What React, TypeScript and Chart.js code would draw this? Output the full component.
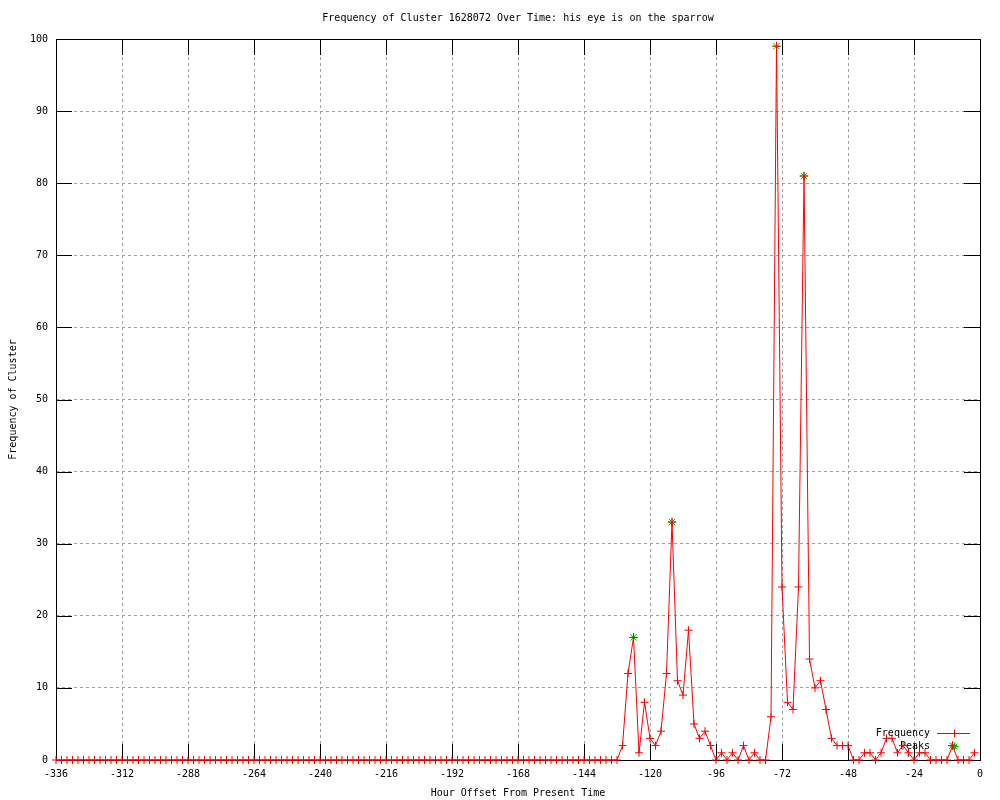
import React, { useEffect, useRef } from "react";
import { Chart, registerables } from "chart.js";

Chart.register(...registerables);

const TITLE = "Frequency of Cluster 1628072 Over Time: his eye is on the sparrow";
const X_LABEL = "Hour Offset From Present Time";
const Y_LABEL = "Frequency of Cluster";
const FREQ_LABEL = "Frequency";
const PEAKS_LABEL = "Peaks";

const hours = [
  -336, -334, -332, -330, -328, -326, -324, -322, -320, -318,
  -316, -314, -312, -310, -308, -306, -304, -302, -300, -298,
  -296, -294, -292, -290, -288, -286, -284, -282, -280, -278,
  -276, -274, -272, -270, -268, -266, -264, -262, -260, -258,
  -256, -254, -252, -250, -248, -246, -244, -242, -240, -238,
  -236, -234, -232, -230, -228, -226, -224, -222, -220, -218,
  -216, -214, -212, -210, -208, -206, -204, -202, -200, -198,
  -196, -194, -192, -190, -188, -186, -184, -182, -180, -178,
  -176, -174, -172, -170, -168, -166, -164, -162, -160, -158,
  -156, -154, -152, -150, -148, -146, -144, -142, -140, -138,
  -136, -134, -132, -130, -128, -126, -124, -122, -120, -118,
  -116, -114, -112, -110, -108, -106, -104, -102, -100, -98,
  -96, -94, -92, -90, -88, -86, -84, -82, -80, -78,
  -76, -74, -72, -70, -68, -66, -64, -62, -60, -58,
  -56, -54, -52, -50, -48, -46, -44, -42, -40, -38,
  -36, -34, -32, -30, -28, -26, -24, -22, -20, -18,
  -16, -14, -12, -10, -8, -6, -4, -2,
];

const frequency = [
  0, 0, 0, 0, 0, 0, 0, 0, 0, 0,
  0, 0, 0, 0, 0, 0, 0, 0, 0, 0,
  0, 0, 0, 0, 0, 0, 0, 0, 0, 0,
  0, 0, 0, 0, 0, 0, 0, 0, 0, 0,
  0, 0, 0, 0, 0, 0, 0, 0, 0, 0,
  0, 0, 0, 0, 0, 0, 0, 0, 0, 0,
  0, 0, 0, 0, 0, 0, 0, 0, 0, 0,
  0, 0, 0, 0, 0, 0, 0, 0, 0, 0,
  0, 0, 0, 0, 0, 0, 0, 0, 0, 0,
  0, 0, 0, 0, 0, 0, 0, 0, 0, 0,
  0, 0, 0, 2, 12, 17, 1, 8, 3, 2,
  4, 12, 33, 11, 9, 18, 5, 3, 4, 2,
  0, 1, 0, 1, 0, 2, 0, 1, 0, 0,
  6, 99, 24, 8, 7, 24, 81, 14, 10, 11,
  7, 3, 2, 2, 2, 0, 0, 1, 1, 0,
  1, 3, 3, 1, 2, 1, 0, 1, 1, 0,
  0, 0, 0, 2, 0, 0, 0, 1,
];

const peakHours = [-126, -112, -74, -64, -10];
const peakValues = [17, 33, 99, 81, 2];

const xTickValues = [-336, -312, -288, -264, -240, -216, -192, -168, -144, -120, -96, -72, -48, -24, 0];
const yTickValues = [0, 10, 20, 30, 40, 50, 60, 70, 80, 90, 100];

const FONT = "'DejaVu Sans Mono', 'Liberation Mono', monospace";
const RED = "#ff0000";
const GREEN = "#00c000";
const GRID = "#a0a0a0";
const TICK_LEN = 16;

function drawCross(ctx: CanvasRenderingContext2D, x: number, y: number, r: number) {
  ctx.beginPath();
  ctx.moveTo(x - r, y);
  ctx.lineTo(x + r, y);
  ctx.moveTo(x, y - r);
  ctx.lineTo(x, y + r);
  ctx.stroke();
}

function drawStar(ctx: CanvasRenderingContext2D, x: number, y: number, r: number) {
  drawCross(ctx, x, y, r);
  const d = r * 0.75;
  ctx.beginPath();
  ctx.moveTo(x - d, y - d);
  ctx.lineTo(x + d, y + d);
  ctx.moveTo(x - d, y + d);
  ctx.lineTo(x + d, y - d);
  ctx.stroke();
}

const gnuplotFrame = {
  id: "gnuplotFrame",
  beforeDatasetsDraw(chart: any) {
    const { ctx, chartArea, scales } = chart;
    const { left, right, top, bottom } = chartArea;
    ctx.save();
    ctx.strokeStyle = "#000";
    ctx.lineWidth = 1;
    ctx.setLineDash([]);
    // ticks
    ctx.beginPath();
    for (const v of xTickValues) {
      const px = Math.round(scales.x.getPixelForValue(v)) + 0.5;
      ctx.moveTo(px, bottom);
      ctx.lineTo(px, bottom - TICK_LEN);
      ctx.moveTo(px, top);
      ctx.lineTo(px, top + TICK_LEN);
    }
    for (const v of yTickValues) {
      const py = Math.round(scales.y.getPixelForValue(v)) + 0.5;
      ctx.moveTo(left, py);
      ctx.lineTo(left + TICK_LEN, py);
      ctx.moveTo(right, py);
      ctx.lineTo(right - TICK_LEN, py);
    }
    ctx.stroke();
    // border
    ctx.strokeRect(Math.round(left) + 0.5, Math.round(top) + 0.5, Math.round(right - left), Math.round(bottom - top));

    // key (legend) at bottom right, drawn before data like gnuplot
    const ds = chart.data.datasets;
    ctx.font = "10px " + FONT;
    ctx.fillStyle = "#000";
    ctx.textAlign = "right";
    ctx.textBaseline = "middle";
    const textRight = right - 50;
    const y1 = bottom - 27;
    const y2 = bottom - 14;
    ctx.fillText(ds[0].label, textRight, y1);
    ctx.fillText(ds[1].label, textRight, y2);
    const sx1 = textRight + 7;
    const sx2 = right - 10;
    const cx = (sx1 + sx2) / 2;
    ctx.strokeStyle = RED;
    ctx.beginPath();
    ctx.moveTo(sx1, y1 + 0.5);
    ctx.lineTo(sx2, y1 + 0.5);
    ctx.stroke();
    drawCross(ctx, Math.round(cx) + 0.5, y1 + 0.5, 4);
    ctx.strokeStyle = GREEN;
    drawStar(ctx, Math.round(cx) + 0.5, y2 + 0.5, 4);

    // title
    ctx.fillStyle = "#000";
    ctx.textAlign = "center";
    ctx.fillText(TITLE, (left + right) / 2, 18);
    ctx.restore();
  },
};

export default function App() {
  const ref = useRef<HTMLCanvasElement>(null);

  useEffect(() => {
    const canvas = ref.current;
    if (!canvas) return;
    const freqPoints = hours.map((h, i) => ({ x: h, y: frequency[i] }));
    const peakPoints = peakHours.map((h, i) => ({ x: h, y: peakValues[i] }));

    const chart = new Chart(canvas, {
      type: "line",
      data: {
        datasets: [
          {
            label: FREQ_LABEL,
            data: freqPoints,
            borderColor: RED,
            backgroundColor: RED,
            borderWidth: 1,
            tension: 0,
            pointStyle: "cross",
            pointRadius: 4,
            pointBorderColor: RED,
            pointBorderWidth: 1,
            pointHoverRadius: 4,
            fill: false,
            clip: false,
            order: 0,
          } as any,
          {
            label: PEAKS_LABEL,
            data: peakPoints,
            showLine: false,
            borderColor: GREEN,
            backgroundColor: GREEN,
            pointStyle: "star",
            pointRadius: 4.5,
            pointBorderColor: GREEN,
            pointBorderWidth: 1,
            clip: false,
            order: 1,
          } as any,
        ],
      },
      options: {
        responsive: false,
        animation: false,
        events: [],
        layout: { padding: { top: 39, right: 20, bottom: 0, left: 0 } },
        plugins: {
          legend: { display: false },
          title: { display: false },
          tooltip: { enabled: false },
        },
        scales: {
          x: {
            type: "linear",
            min: -336,
            max: 0,
            afterFit: (s: any) => {
              s.height = 40;
            },
            afterBuildTicks: (s: any) => {
              s.ticks = xTickValues.map((v) => ({ value: v }));
            },
            ticks: {
              color: "#000",
              font: { family: FONT, size: 10 },
              padding: 8,
              maxRotation: 0,
              autoSkip: false,
            },
            grid: {
              color: GRID,
              lineWidth: 1,
              drawTicks: false,
            },
            border: { display: false, dash: [3, 3] },
            title: {
              display: true,
              text: X_LABEL,
              color: "#000",
              font: { family: FONT, size: 10 },
              padding: { top: 0, bottom: 1 },
            },
          },
          y: {
            type: "linear",
            min: 0,
            max: 100,
            afterFit: (s: any) => {
              s.width = 56;
            },
            afterBuildTicks: (s: any) => {
              s.ticks = yTickValues.map((v) => ({ value: v }));
            },
            ticks: {
              color: "#000",
              font: { family: FONT, size: 10 },
              padding: 8,
              autoSkip: false,
            },
            grid: {
              color: GRID,
              lineWidth: 1,
              drawTicks: false,
            },
            border: { display: false, dash: [3, 3] },
            title: {
              display: true,
              text: Y_LABEL,
              color: "#000",
              font: { family: FONT, size: 10 },
              padding: { top: 7, bottom: 0 },
            },
          },
        },
      },
      plugins: [gnuplotFrame],
    });
    return () => chart.destroy();
  }, []);

  return (
    <div style={{ position: "absolute", left: 0, top: 0, width: 1000, height: 800, background: "#fff" }}>
      <canvas ref={ref} width={1000} height={800} style={{ display: "block", width: 1000, height: 800 }} />
    </div>
  );
}
